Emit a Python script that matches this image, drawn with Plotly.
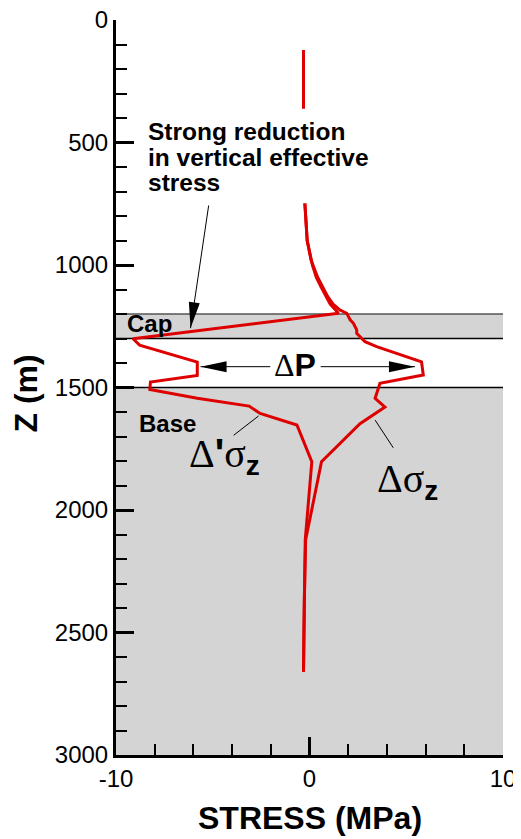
import math
import plotly.graph_objects as go

# depth (m) and stress change (MPa)
z_eff = [122, 359, 748, 900, 1000, 1050, 1090, 1130, 1160, 1197, 1301, 1327, 1396, 1451,
         1478, 1508, 1544, 1576, 1606, 1653, 1803, 2122, 2367, 2660]
s_eff = [-0.31, -0.31, -0.24, -0.12, 0.15, 0.35, 0.6, 0.85, 1.07, 1.5, -9.12, -8.78, -5.8, -5.8,
         -8.22, -8.25, -5.8, -3.12, -2.55, -0.65, 0.12, -0.22, -0.27, -0.31]

z_tot = [122, 359, 748, 900, 980, 1050, 1090, 1130, 1160, 1184, 1197, 1224, 1238, 1265, 1279,
         1306, 1313, 1333, 1395, 1449, 1483, 1503, 1544, 1580, 1648, 1803, 2122, 2367, 2660]
s_tot = [-0.31, -0.31, -0.24, -0.12, 0.08, 0.42, 0.68, 0.95, 1.22, 1.58, 1.93, 2.1, 2.27, 2.44, 2.44,
         2.8, 2.87, 3.47, 5.79, 5.88, 3.64, 3.56, 3.39, 3.9, 2.61, 0.62, -0.2, -0.27, -0.31]

cap = [1200, 1300]
base = [1500, 3000]
x_range = [-10, 10]
z_range = [3000, 0]
x_ticks = [-10, 0, 10]
x_ticktext = ["-10", "0", "10"]
z_ticks = [0, 500, 1000, 1500, 2000, 2500, 3000]

RED = "rgb(222,0,0)"
FONT = "Arial, Liberation Sans, sans-serif"
SERIF = "Liberation Serif, Times New Roman, serif"

# plot area in px, used to size the arrow heads
PLOT_W, PLOT_H = 387, 735
SX = PLOT_W / (x_range[1] - x_range[0])
SY = PLOT_H / (z_range[0] - z_range[1])


def head(tip, tail, length=26, width=11):
    # slim filled arrow head as a path shape
    dx = (tip[0] - tail[0]) * SX
    dy = (tip[1] - tail[1]) * SY
    n = math.hypot(dx, dy)
    ux, uy = dx / n, dy / n
    px, py = -uy, ux
    bx, by = -ux * length, -uy * length
    pts = [(0, 0), (bx + px * width / 2, by + py * width / 2), (bx - px * width / 2, by - py * width / 2)]
    d = "M " + " L ".join("%f,%f" % (tip[0] + a / SX, tip[1] + b / SY) for a, b in pts) + " Z"
    return dict(type="path", path=d, xref="x", yref="y", fillcolor="black",
                line=dict(width=0), layer="above")


fig = go.Figure()
fig.add_trace(go.Scatter(x=s_eff, y=z_eff, mode="lines", line=dict(color=RED, width=3),
                         showlegend=False, hoverinfo="skip"))
fig.add_trace(go.Scatter(x=s_tot, y=z_tot, mode="lines", line=dict(color=RED, width=3),
                         showlegend=False, hoverinfo="skip"))

shapes = [
    dict(type="rect", x0=x_range[0], x1=x_range[1], y0=cap[0], y1=cap[1],
         fillcolor="#d4d4d4", line=dict(width=0), layer="below"),
    dict(type="rect", x0=x_range[0], x1=x_range[1], y0=base[0], y1=base[1],
         fillcolor="#d4d4d4", line=dict(width=0), layer="below"),
    # white box behind the note
    dict(type="rect", x0=-8.5, x1=3.3, y0=362, y1=748,
         fillcolor="white", line=dict(width=0), layer="above"),
]
for zz, col in [(cap[0], "#555555"), (cap[1], "black"), (base[0], "black")]:
    shapes.append(dict(type="line", x0=x_range[0], x1=x_range[1], y0=zz, y1=zz,
                       line=dict(color=col, width=1.5), layer="below"))

# arrows: (tip, tail)
arrows = [((-6.15, 1258), (-5.2, 751)),
          ((-5.63, 1415), (-1.95, 1415)),
          ((5.45, 1415), (0.5, 1415))]

ann = []
for tip, tail in arrows:
    ann.append(dict(x=tip[0], y=tip[1], ax=tail[0], ay=tail[1], axref="x", ayref="y", text="",
                    showarrow=True, arrowhead=0, arrowwidth=1, arrowcolor="black"))
    shapes.append(head(tip, tail))

# note text, one annotation per line
for i, t in enumerate(["Strong reduction", "in vertical effective", "stress"]):
    ann.append(dict(x=-8.45, y=456 + i * 104, text="<b>" + t + "</b>", showarrow=False,
                    xanchor="left", yanchor="middle", font=dict(size=24.5, color="black", family=FONT)))
ann.append(dict(x=-8.25, y=1240, text="<b>Cap</b>", showarrow=False,
                font=dict(size=24, color="black", family=FONT)))
ann.append(dict(x=-7.35, y=1648, text="<b>Base</b>", showarrow=False,
                font=dict(size=24, color="black", family=FONT)))
ann.append(dict(x=-0.74, y=1410, text='<span style="font-family:' + SERIF + '">Δ</span><b>P</b>',
                showarrow=False, font=dict(size=32, color="black", family=FONT)))
# curve labels
ann.append(dict(x=-4.4, y=1778, text="Δ<b style=\"font-family:Arial\">'</b>σ<sub><b style=\"font-family:Arial\">z</b></sub>",
                showarrow=False, font=dict(size=40, color="black", family=SERIF)))
ann.append(dict(x=5.05, y=1880, text="Δσ<sub><b style=\"font-family:Arial\">z</b></sub>",
                showarrow=False, font=dict(size=40, color="black", family=SERIF)))
ann.append(dict(x=-2.63, y=1616, ax=-4.0, ay=1700, axref="x", ayref="y", text="",
                showarrow=True, arrowhead=0, arrowwidth=1, arrowcolor="black"))
ann.append(dict(x=3.39, y=1633, ax=4.38, ay=1752, axref="x", ayref="y", text="",
                showarrow=True, arrowhead=0, arrowwidth=1, arrowcolor="black"))
# axis titles
ann.append(dict(x=0.5, y=0, xref="paper", yref="paper", yanchor="middle", yshift=-63,
                text="<b>STRESS (MPa)</b>", showarrow=False,
                font=dict(size=32, color="black", family=FONT)))
ann.append(dict(x=0, y=0.5, xref="paper", yref="paper", xanchor="center", xshift=-91, yshift=-6,
                text="<b>Z (m)</b>", textangle=-90, showarrow=False,
                font=dict(size=32, color="black", family=FONT)))

# page body adds an 8px offset, so the figure is 8px smaller and margins compensate
fig.update_layout(
    width=513, height=831, autosize=False,
    margin=dict(l=108, r=18, t=12, b=84),
    plot_bgcolor="white", paper_bgcolor="white",
    font=dict(family=FONT, color="black", size=24),
    shapes=shapes, annotations=ann,
    xaxis=dict(range=x_range, tickvals=x_ticks, ticktext=x_ticktext, ticks="inside", ticklen=18,
               tickwidth=3, tickcolor="black", showline=True, linewidth=3, linecolor="black",
               showgrid=False, zeroline=False, tickfont=dict(size=24), automargin=False,
               ticklabeloverflow="allow",
               minor=dict(dtick=2, ticks="inside", ticklen=11, tickwidth=1.5, tickcolor="black")),
    yaxis=dict(range=z_range, tickvals=z_ticks, ticks="inside",
               ticklen=18, tickwidth=3, tickcolor="black", showline=True, linewidth=3,
               linecolor="black", showgrid=False, zeroline=False, tickfont=dict(size=24),
               automargin=False, ticklabeloverflow="allow",
               minor=dict(dtick=100, ticks="inside", ticklen=11, tickwidth=1.5, tickcolor="black")),
)

fig.write_html("out.html")
